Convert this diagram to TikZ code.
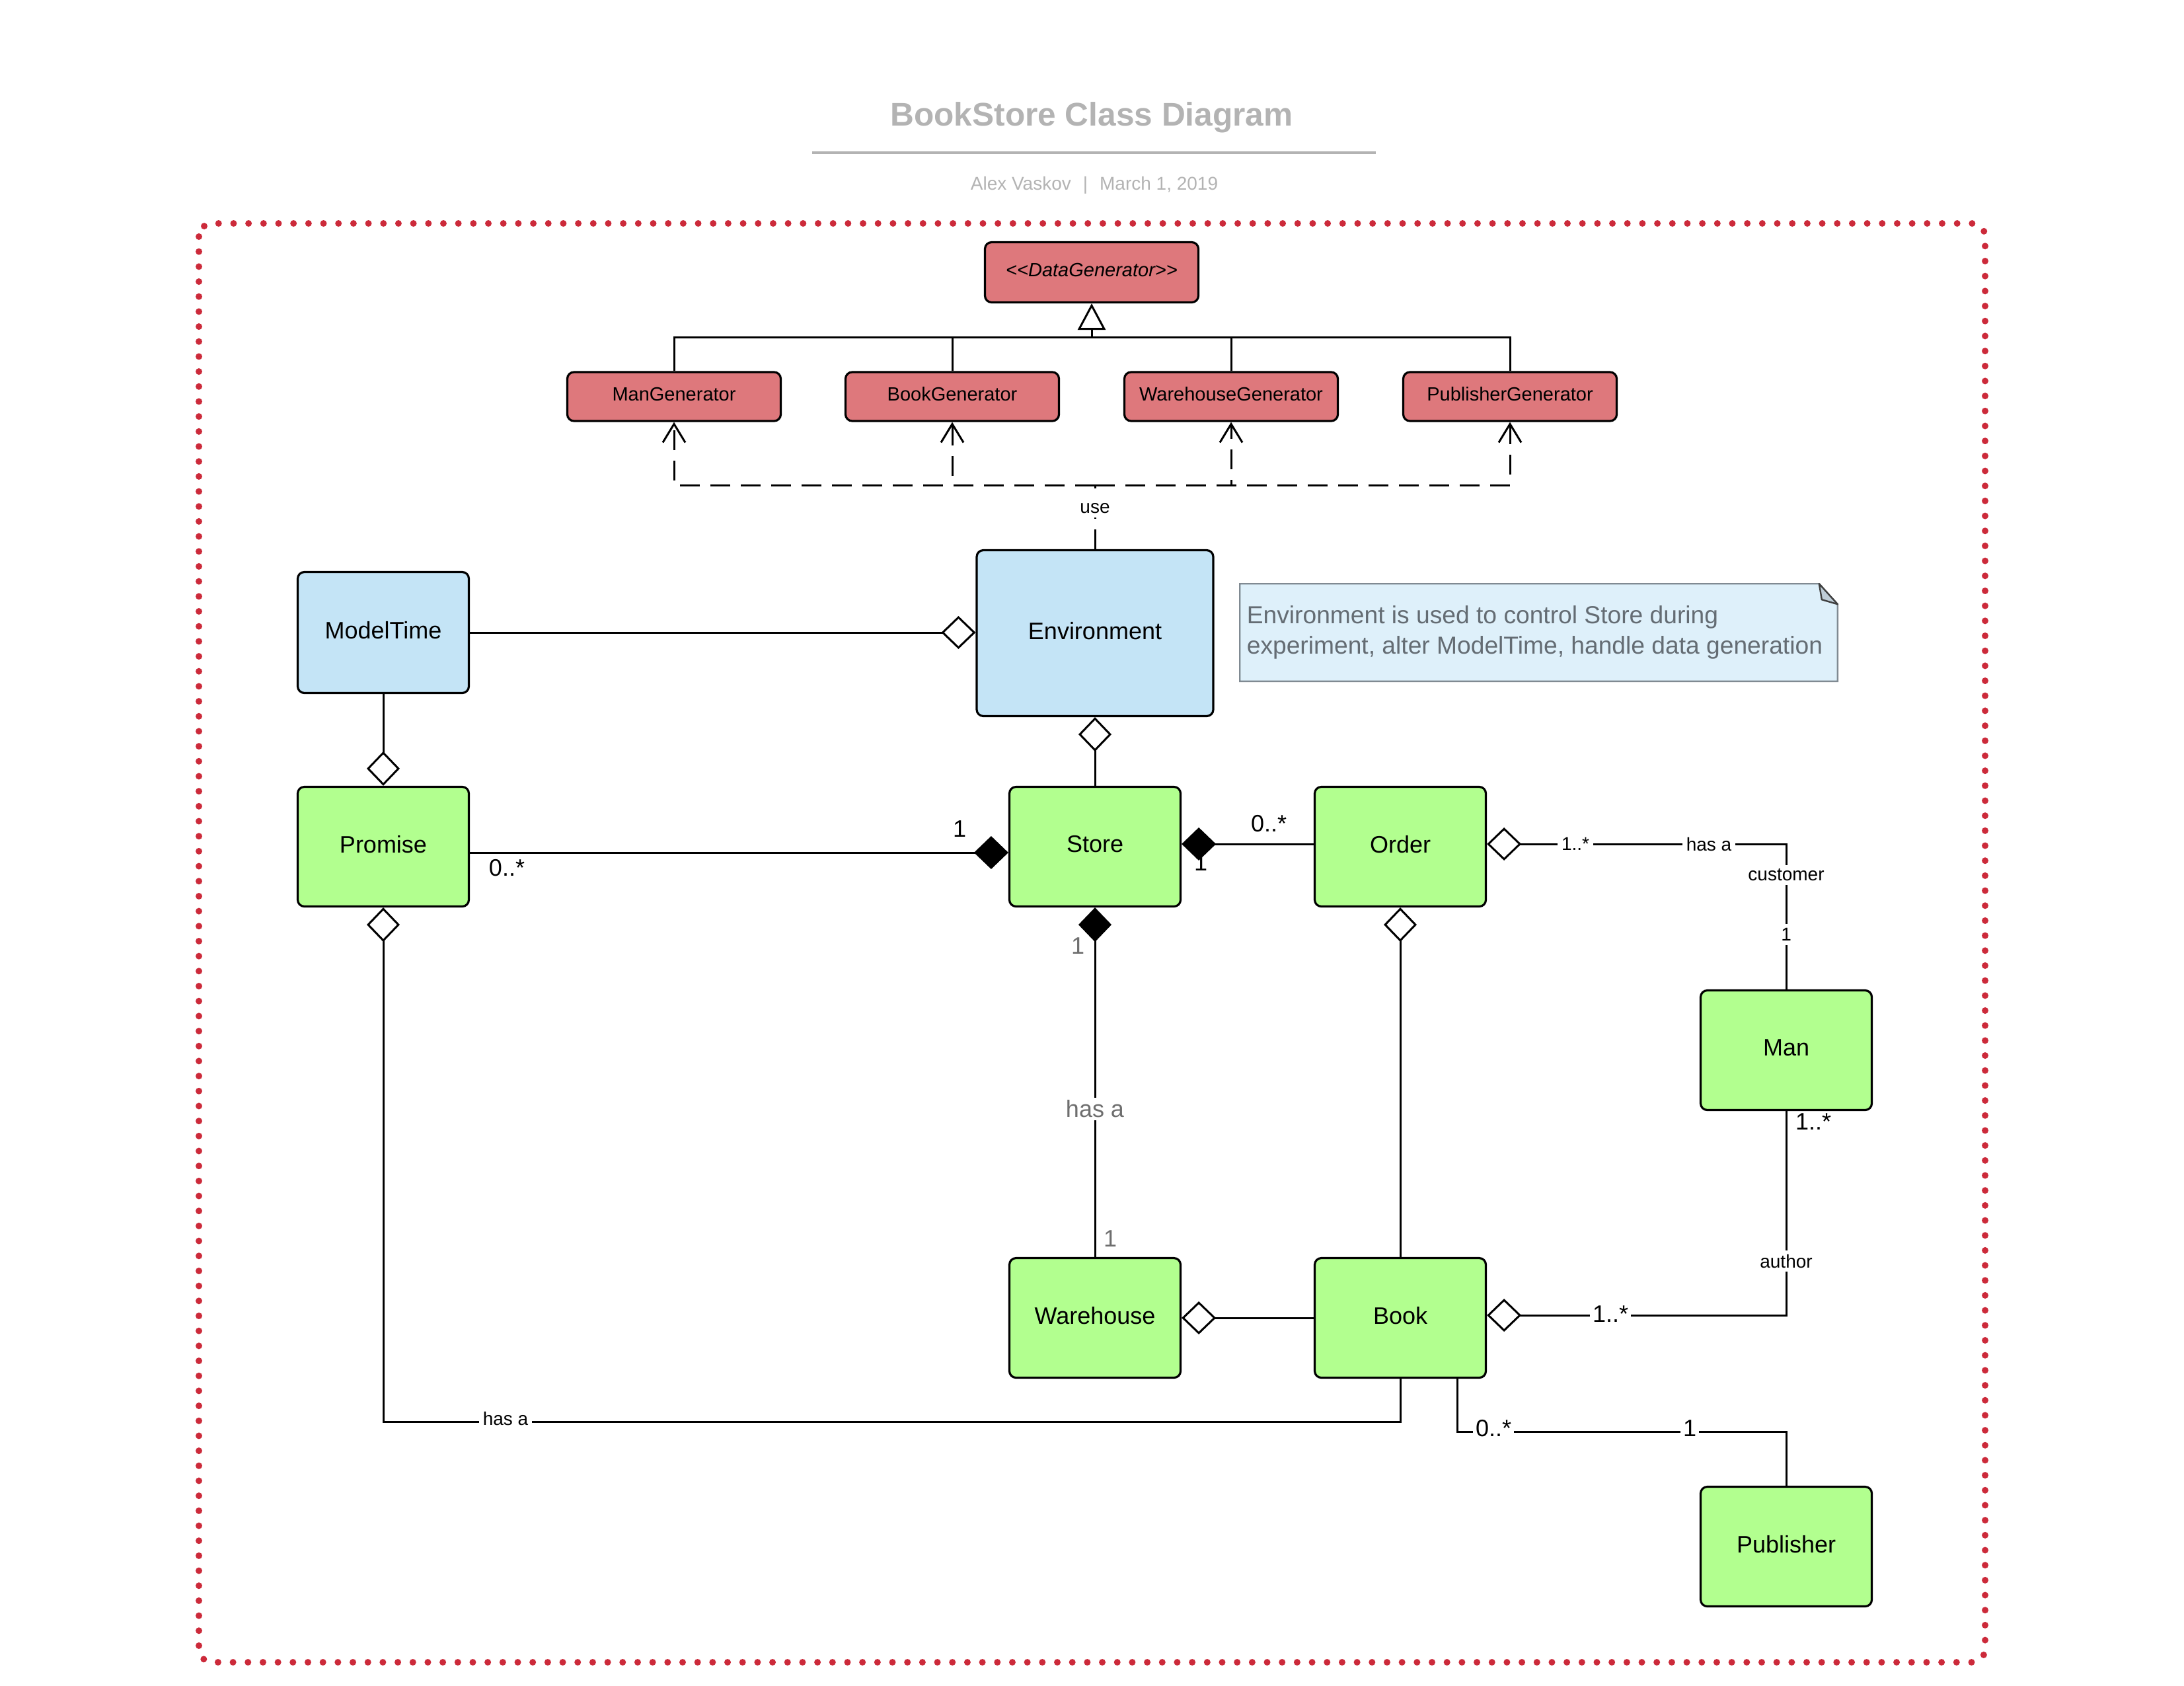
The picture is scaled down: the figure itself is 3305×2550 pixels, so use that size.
\documentclass[tikz,border=0pt]{standalone}
\usepackage{fontspec}
\setmainfont{Liberation Sans}
\usetikzlibrary{arrows.meta,calc}

\definecolor{framered}{RGB}{204,42,58}
\definecolor{genred}{RGB}{222,120,124}
\definecolor{envblue}{RGB}{196,228,246}
\definecolor{noteblue}{RGB}{222,240,250}
\definecolor{noteedge}{RGB}{128,138,146}
\definecolor{notefold}{RGB}{190,204,214}
\definecolor{notetext}{RGB}{100,108,115}
\definecolor{classgreen}{RGB}{178,255,143}
\definecolor{titlegray}{RGB}{179,179,179}
\definecolor{labgray}{RGB}{110,110,110}

\tikzset{
  px/.style={x=0.25pt,y=-0.25pt},
  box/.style={draw=black, line width=0.8pt, rounded corners=2.5pt, align=center,
    inner sep=0pt, text depth=2pt},
  cls/.style={box, fill=classgreen, minimum width=64.75pt, minimum height=45.25pt,
    font=\fontsize{9}{11}\selectfont},
  gen/.style={box, fill=genred, minimum width=80.75pt, minimum height=18.5pt,
    font=\fontsize{7.25}{9}\selectfont},
  envbox/.style={box, fill=envblue, font=\fontsize{9}{11}\selectfont},
  conn/.style={line width=0.75pt, draw=black},
  depline/.style={conn, dash pattern=on 7.5pt off 4pt},
  odiam/.tip={Diamond[fill=white, length=13pt, width=12.5pt]},
  fdiam/.tip={Diamond[length=13pt, width=12.5pt]},
  inherit/.tip={Triangle[fill=white, length=10pt, width=10.5pt]},
  usetip/.tip={Straight Barb[length=7pt, width=8.5pt]},
  mult/.style={font=\fontsize{9}{11}\selectfont, inner sep=1pt},
  small/.style={font=\fontsize{7}{8.5}\selectfont, inner sep=1.5pt, fill=white},
}

\begin{document}
\begin{tikzpicture}[px]
\useasboundingbox (0,0) rectangle (3305,2550);

% heading
\node[anchor=base, text=titlegray, font=\bfseries\fontsize{12.4}{14}\selectfont]
  (title) at (1652,190) {BookStore Class Diagram};
\draw[titlegray, line width=0.9pt] (1229,231) -- (2082,231);
\node[anchor=base, text=titlegray, font=\fontsize{7}{8.5}\selectfont]
  (subtitle) at (1656,287) {Alex Vaskov\hspace{4.5pt}|\hspace{4.5pt}March 1, 2019};

% dotted frame
\draw[framered, line width=2.5pt, line cap=round, dash pattern=on 0pt off 5.67pt,
  rounded corners=5pt] (301,338) rectangle (3004,2515);

% data generators
\node[gen, minimum height=22.75pt, font=\itshape\fontsize{7.25}{9}\selectfont]
  (datagen) at (1652,412) {<\kern0pt<DataGenerator>\kern0pt>};
\node[gen] (mangen)  at (1020,600) {ManGenerator};
\node[gen] (bookgen) at (1441,600) {BookGenerator};
\node[gen] (whgen)   at (1863,600) {WarehouseGenerator};
\node[gen] (pubgen)  at (2285,600) {PublisherGenerator};

\coordinate (genbar) at (1652,510);
\draw[conn] (mangen.north) |- (pubgen.north |- genbar) -- (pubgen.north);
\draw[conn] (bookgen.north) -- (bookgen.north |- genbar);
\draw[conn] (whgen.north) -- (whgen.north |- genbar);
\draw[conn, -{inherit}] (genbar) -- (datagen.south);

% environment and model time
\node[envbox, minimum width=64.75pt, minimum height=45.75pt] (modeltime) at (580,957) {ModelTime};
\node[envbox, minimum width=89.5pt, minimum height=62.75pt] (env) at (1657,958) {Environment};

% "use" dependencies
\coordinate (usejoin) at (1657,734);
\draw[depline] (env.north) -- (usejoin);
\draw[depline, -{usetip}] (usejoin) -| (mangen.south);
\draw[depline, -{usetip}] (usejoin) -| (bookgen.south);
\draw[depline, -{usetip}] (usejoin) -| (whgen.south);
\draw[depline, -{usetip}] (usejoin) -| (pubgen.south);
\node[small] (uselabel) at (1657,769) {use};

% note
\node[minimum width=225.75pt, minimum height=36.5pt, inner sep=0pt] (note) at (2328.5,957) {};
\draw[noteedge, fill=noteblue, line width=0.6pt]
  (note.south west) -- (note.north west) -- ($(note.north east)+(-28,0)$)
  -- ($(note.north east)+(0,31)$) -- (note.south east) -- cycle;
\draw[black!75, fill=notefold, line width=0.6pt, line join=round]
  ($(note.north east)+(-28,0)$) -- ($(note.north east)+(-24,24)$)
  -- ($(note.north east)+(0,31)$) -- cycle;
\node[anchor=west, align=left, inner sep=0pt, text=notetext,
  font=\fontsize{9.3}{11.5}\selectfont] (notetxt) at (1886,957)
  {Environment is used to control Store during\\experiment, alter ModelTime, handle data generation};

% store classes
\node[cls] (promise)   at (580,1281)  {Promise};
\node[cls] (store)     at (1657,1281) {Store};
\node[cls] (order)     at (2119,1281) {Order};
\node[cls] (man)       at (2703,1589) {Man};
\node[cls] (warehouse) at (1657,1994) {Warehouse};
\node[cls] (book)      at (2119,1994) {Book};
\node[cls] (publisher) at (2703,2340) {Publisher};

% associations
\draw[conn, -{odiam}] (modeltime.east) -- (modeltime.east -| env.west);
\draw[conn, -{odiam}] (modeltime.south) -- (promise.north);
\draw[conn, -{odiam}] (store.north) -- (env.south);
\draw[conn, -{fdiam}] ($(promise.east)+(0,9)$) -- ($(store.west)+(0,9)$);
\draw[conn, -{fdiam}] ($(order.west)+(0,-4)$) -- ($(store.east)+(0,-4)$);
\draw[conn, -{fdiam}] (warehouse.north) -- (store.south);
\draw[conn, -{odiam}] (book.north) -- (order.south);
\draw[conn, -{odiam}] (man.north) |- ($(order.east)+(0,-4)$);
\draw[conn, -{odiam}] (book.west) -- (warehouse.east);
\draw[conn, -{odiam}] (man.south) |- ($(book.east)+(0,-4)$);
\draw[conn, -{odiam}] (book.south) -- ++(0,65) -| (promise.south);
\draw[conn] ($(book.south)+(86,0)$) -- ++(0,80) -| (publisher.north);

% multiplicities and role names
\node[mult] (m1) at (1452,1254) {1};
\node[mult] (m2) at (767,1313) {0..*};
\node[mult] (m3) at (1920,1246) {0..*};
\node[mult] (m4) at (1817,1305) {1};
\node[mult, text=labgray] (m5) at (1631,1431) {1};
\node[mult, text=labgray, fill=white] (m6) at (1657,1678) {has a};
\node[mult, text=labgray] (m7) at (1680,1874) {1};
\node[small] (m8) at (2384,1277) {1..*};
\node[small] (m9) at (2586,1277) {has a};
\node[small] (m10) at (2703,1324) {customer};
\node[small] (m11) at (2703,1414) {1};
\node[mult, fill=white] (m12) at (2437,1988) {1..*};
\node[small] (m13) at (2703,1908) {author};
\node[mult] (m14) at (2744,1697) {1..*};
\node[small] (m15) at (765,2146) {has a};
\node[mult, fill=white] (m16) at (2260,2161) {0..*};
\node[mult, fill=white] (m17) at (2557,2161) {1};
\end{tikzpicture}
\end{document}
